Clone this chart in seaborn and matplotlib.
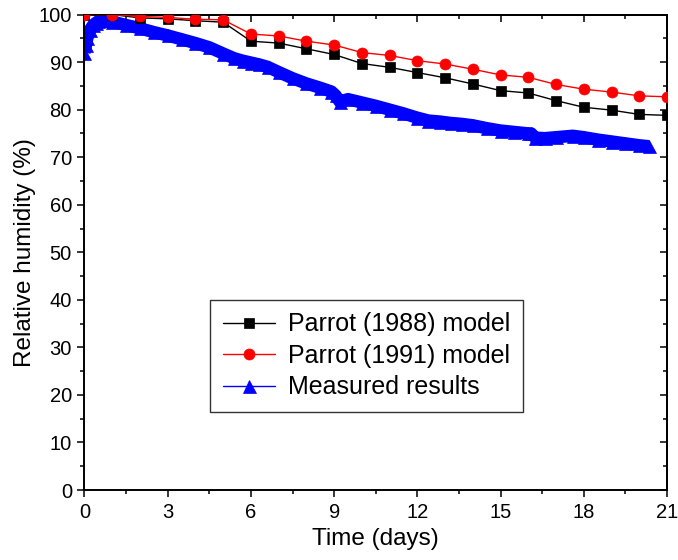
import matplotlib
matplotlib.use("Agg")
import matplotlib.pyplot as plt
from matplotlib.ticker import MultipleLocator
import seaborn as sns

# Model predictions, one value per day
days = list(range(22))
parrot_1988 = [100.0, 100.0, 99.3, 99.1, 98.7, 98.4, 94.4, 94.0, 92.8, 91.6, 89.7,
               88.9, 87.8, 86.7, 85.4, 84.0, 83.5, 81.9, 80.5, 79.9, 79.0, 78.8]
parrot_1991 = [100.0, 100.0, 99.6, 99.4, 99.0, 98.9, 95.9, 95.5, 94.4, 93.6, 92.0,
               91.4, 90.3, 89.6, 88.5, 87.3, 86.8, 85.3, 84.3, 83.7, 82.9, 82.7]

# Sensor record
measured_days = [0.0, 0.05, 0.1, 0.2, 0.3, 0.4, 0.5, 0.65, 0.8, 1.0, 1.5, 2.0, 2.5,
                 3.0, 3.5, 4.0, 4.5, 5.0, 5.4, 5.7, 6.0, 6.3, 6.6, 7.0, 7.5, 8.0,
                 8.5, 8.9, 9.05, 9.2, 9.5, 10.0, 10.5, 11.0, 11.5, 12.0, 12.4, 12.8,
                 13.2, 13.6, 14.0, 14.5, 15.0, 15.5, 16.0, 16.1, 16.25, 16.6, 17.0,
                 17.6, 18.0, 18.5, 19.0, 19.5, 20.0, 20.35]
measured_rh = [92.0, 93.5, 95.0, 96.8, 97.7, 98.2, 98.6, 98.9, 98.8, 98.5, 97.8,
               97.1, 96.3, 95.6, 94.8, 94.0, 93.1, 91.8, 90.8, 90.3, 89.9, 89.5,
               89.0, 87.9, 86.6, 85.5, 84.6, 83.8, 83.0, 81.7, 82.2, 81.5, 80.8,
               80.0, 79.2, 78.3, 77.7, 77.5, 77.2, 77.0, 76.7, 76.1, 75.6, 75.3,
               75.0, 75.0, 74.1, 74.0, 74.2, 74.5, 74.2, 73.7, 73.3, 72.9, 72.5,
               72.3]

x_ticks = list(range(0, 22, 3))
y_ticks = list(range(0, 101, 10))

sns.set_theme(style="ticks")
plt.rcParams["font.family"] = ["Liberation Sans", "DejaVu Sans"]
plt.rcParams.update({
    "text.color": "black",
    "axes.labelcolor": "black",
    "axes.edgecolor": "black",
    "xtick.color": "black",
    "ytick.color": "black",
})

PX = 72 / 100  # points per pixel at 100 dpi

fig = plt.figure(figsize=(6.78, 5.60), dpi=100)
ax = fig.add_axes([0.1246, 0.125, 0.8592, 0.849])

blue = "#0000ff"

# thick band underneath the densely sampled measurement markers
sns.lineplot(x=measured_days, y=measured_rh, ax=ax, color=blue, linewidth=12.5 * PX,
             sort=False, solid_joinstyle="round", solid_capstyle="butt",
             legend=False, zorder=2)
sns.lineplot(x=measured_days, y=measured_rh, ax=ax, color=blue, linewidth=1,
             marker="^", markersize=13 * PX, markeredgecolor=blue,
             markeredgewidth=0.5, sort=False, label="Measured results", zorder=2)

sns.lineplot(x=days, y=parrot_1988, ax=ax, color="black", linewidth=1,
             marker="s", markersize=10 * PX, markeredgecolor="black",
             markeredgewidth=0.5, label="Parrot (1988) model", zorder=3)
sns.lineplot(x=days, y=parrot_1991, ax=ax, color="red", linewidth=1,
             marker="o", markersize=11 * PX, markeredgecolor="red",
             markeredgewidth=0.5, label="Parrot (1991) model", zorder=4)

ax.set_xlim(0, 21)
ax.set_ylim(0, 100)
ax.set_xticks(x_ticks)
ax.set_yticks(y_ticks)
ax.xaxis.set_minor_locator(MultipleLocator(1.5))
ax.yaxis.set_minor_locator(MultipleLocator(5))

ax.set_xlabel("Time (days)", fontsize=17.5, labelpad=5)
ax.set_ylabel("Relative humidity (%)", fontsize=17.5, labelpad=2)

for side in ax.spines.values():
    side.set_linewidth(1.4)
    side.set_visible(True)

ax.tick_params(which="both", direction="out", width=1.1, labelsize=14.5)
ax.tick_params(which="major", length=5, pad=4)
ax.tick_params(which="minor", length=3)

# inward ticks on the top and right frame
top = ax.secondary_xaxis("top")
top.set_xticks(x_ticks)
top.xaxis.set_minor_locator(MultipleLocator(1.5))
top.tick_params(which="both", direction="in", width=1.1, labeltop=False)
top.tick_params(which="major", length=5)
top.tick_params(which="minor", length=3)
top.spines["top"].set_linewidth(1.4)

right = ax.secondary_yaxis("right")
right.set_yticks(y_ticks)
right.yaxis.set_minor_locator(MultipleLocator(5))
right.tick_params(which="both", direction="in", width=1.1, labelright=False)
right.tick_params(which="major", length=5)
right.tick_params(which="minor", length=3)
right.spines["right"].set_linewidth(1.4)

handles, labels = ax.get_legend_handles_labels()
order = ["Parrot (1988) model", "Parrot (1991) model", "Measured results"]
lookup = dict(zip(labels, handles))
leg = ax.legend([lookup[k] for k in order], order, loc="upper left",
                bbox_to_anchor=(0.216, 0.40), borderaxespad=0, fontsize=18,
                frameon=True, fancybox=False, framealpha=1, borderpad=0.5,
                labelspacing=0.3, handlelength=2.1, handletextpad=0.5)
leg.get_frame().set_edgecolor("#333333")
leg.get_frame().set_linewidth(1.0)

fig.savefig("out.png", dpi=100)
